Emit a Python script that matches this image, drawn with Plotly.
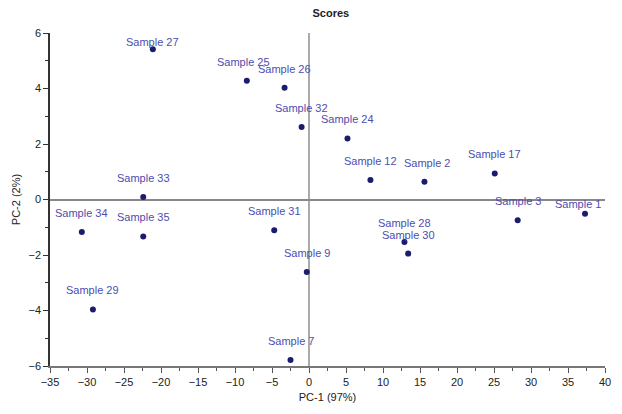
import plotly.graph_objects as go

samples = ["Sample 27", "Sample 25", "Sample 26", "Sample 32", "Sample 24", "Sample 12",
           "Sample 2", "Sample 17", "Sample 3", "Sample 1", "Sample 28", "Sample 30",
           "Sample 9", "Sample 33", "Sample 34", "Sample 35", "Sample 31", "Sample 29", "Sample 7"]
pc1 = [-21.1, -8.4, -3.3, -1.0, 5.2, 8.3, 15.6, 25.1, 28.2, 37.3, 12.9, 13.4,
       -0.3, -22.4, -30.7, -22.4, -4.7, -29.2, -2.5]
pc2 = [5.41, 4.28, 4.03, 2.61, 2.20, 0.70, 0.64, 0.94, -0.75, -0.51, -1.53, -1.95,
       -2.61, 0.09, -1.17, -1.33, -1.11, -3.96, -5.78]

# label nudges (pixels) for labels not sitting at the default spot
label_dx = {"Sample 25": -3, "Sample 2": 3, "Sample 1": -7}
label_dy = {"Sample 27": 7, "Sample 1": 10}

fig = go.Figure()
fig.add_trace(go.Scatter(x=pc1, y=pc2, mode="markers",
                         marker=dict(color="#1c1c6e", size=6),
                         hoverinfo="skip", showlegend=False))

font_family = "Liberation Sans, Arial, sans-serif"
for name, x, y in zip(samples, pc1, pc2):
    fig.add_annotation(x=x, y=y, text=name, showarrow=False,
                       xshift=label_dx.get(name, 0), yshift=label_dy.get(name, 19),
                       font=dict(family=font_family, size=11, color="#4d4dae"))

fig.update_layout(
    width=622, height=414,
    margin=dict(l=50, r=11, t=33, b=48),
    paper_bgcolor="white", plot_bgcolor="white",
    title=dict(text="<b>Scores</b>", x=0.506, xref="paper", xanchor="center",
               y=0.968, yanchor="middle",
               font=dict(family=font_family, size=11, color="#222")),
    font=dict(family=font_family, size=11, color="#222"),
)
fig.update_xaxes(range=[-35, 40], dtick=5, tick0=-35, showgrid=False,
                 showline=True, linecolor="#777", linewidth=2,
                 ticks="outside", ticklen=5, tickcolor="#555",
                 minor=dict(dtick=2.5, ticks="outside", ticklen=3, tickcolor="#555"),
                 zeroline=True, zerolinecolor="#aaaaaa", zerolinewidth=1.5,
                 title=dict(text="PC-1 (97%)", standoff=6, font=dict(size=11)))
fig.update_yaxes(range=[-6, 6], dtick=2, showgrid=False,
                 showline=True, linecolor="#333", linewidth=1.5,
                 ticks="outside", ticklen=5, tickcolor="#333",
                 minor=dict(dtick=1, ticks="outside", ticklen=3, tickcolor="#333"),
                 zeroline=True, zerolinecolor="#888888", zerolinewidth=1.5,
                 title=dict(text="PC-2 (2%)", standoff=6, font=dict(size=11)))

fig.write_html("out.html")
